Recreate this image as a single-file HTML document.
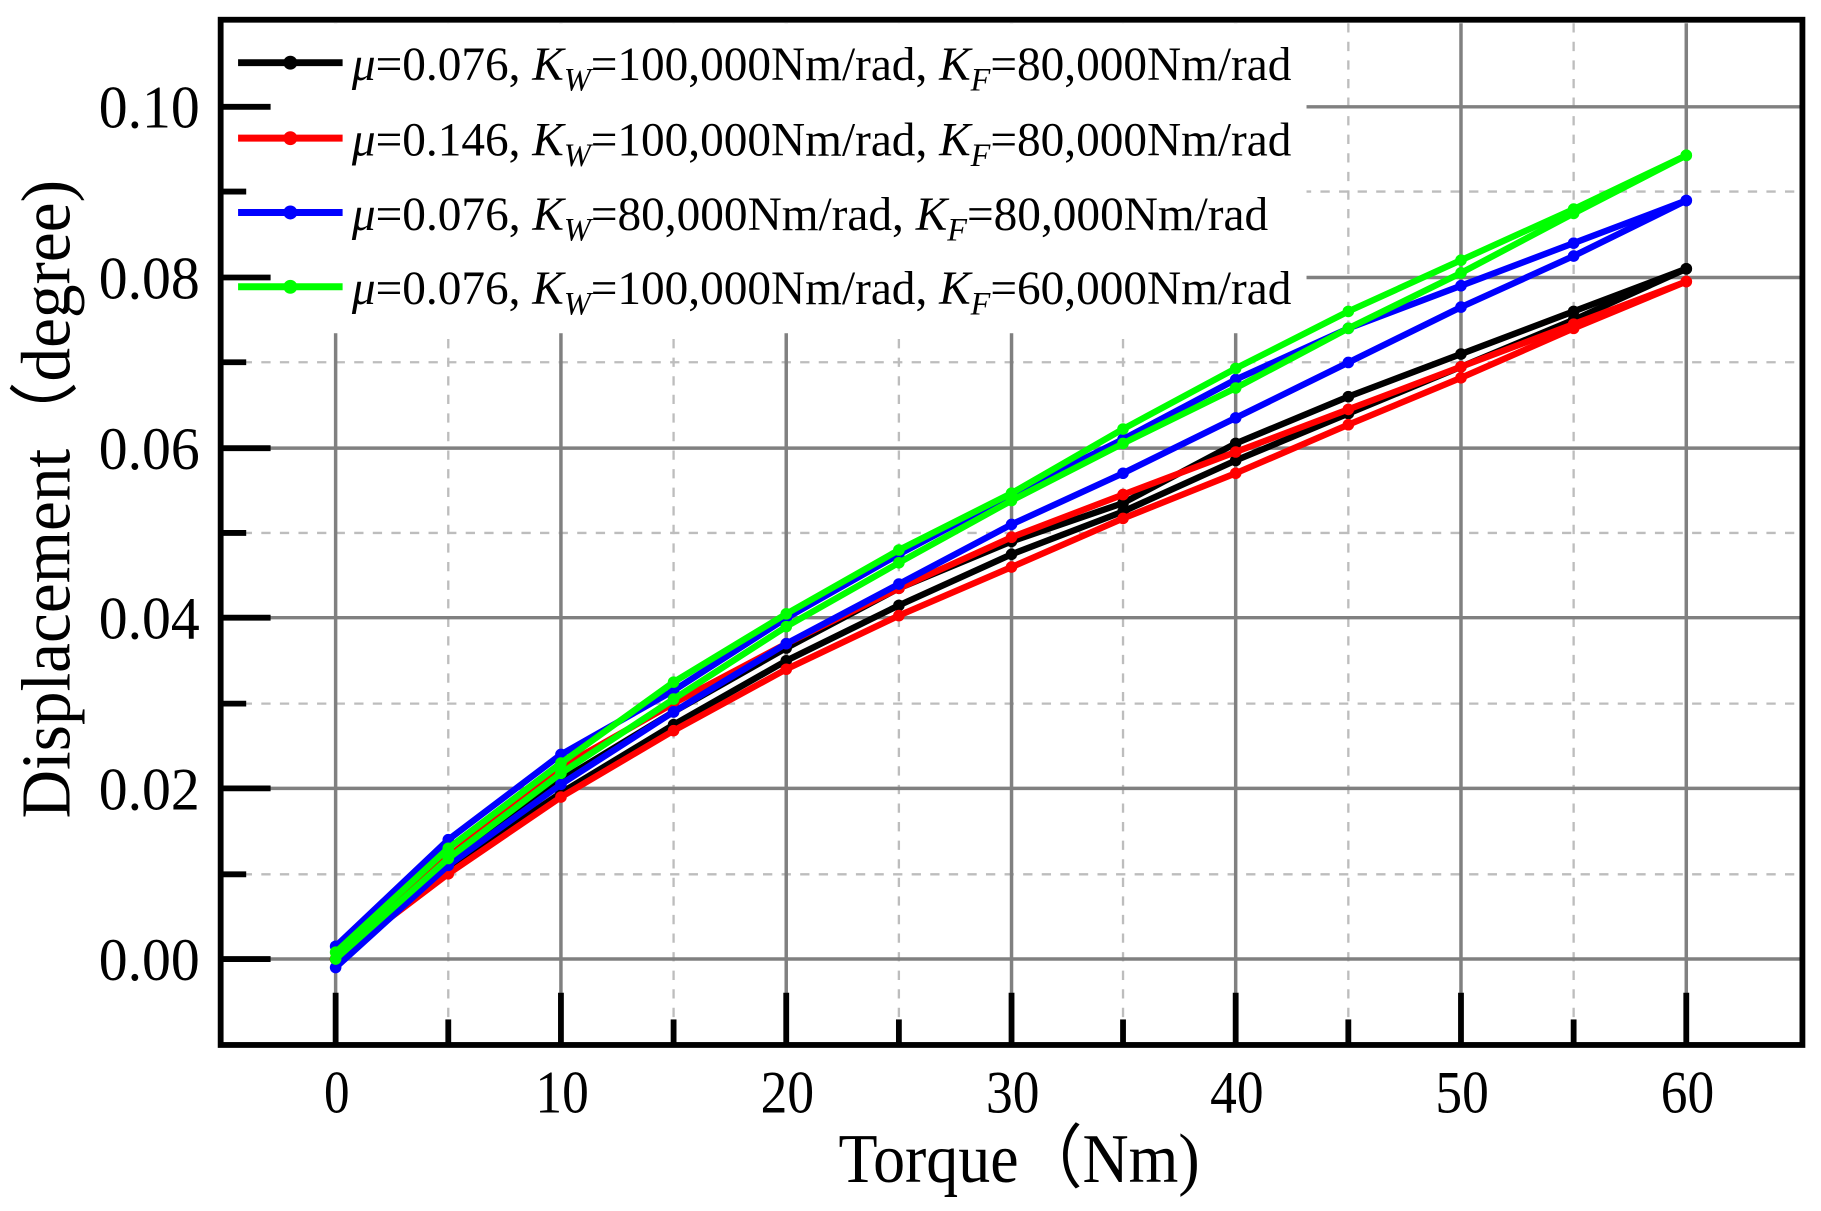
<!DOCTYPE html>
<html><head><meta charset="utf-8"><style>
html,body{margin:0;padding:0;background:#fff;}
svg{display:block;}
text{font-family:"Liberation Serif",serif;fill:#000;}
</style></head><body>
<svg width="1821" height="1211" viewBox="0 0 1568 1043" preserveAspectRatio="none" xmlns="http://www.w3.org/2000/svg">
<defs>
<marker id="mK" markerUnits="userSpaceOnUse" markerWidth="14" markerHeight="14" refX="7" refY="7"><circle cx="7" cy="7" r="5" fill="#000"/></marker>
<marker id="mR" markerUnits="userSpaceOnUse" markerWidth="14" markerHeight="14" refX="7" refY="7"><circle cx="7" cy="7" r="5" fill="#f00"/></marker>
<marker id="mB" markerUnits="userSpaceOnUse" markerWidth="14" markerHeight="14" refX="7" refY="7"><circle cx="7" cy="7" r="5" fill="#00f"/></marker>
<marker id="mG" markerUnits="userSpaceOnUse" markerWidth="14" markerHeight="14" refX="7" refY="7"><circle cx="7" cy="7" r="5" fill="#0f0"/></marker>
</defs>
<rect width="1568" height="1043" fill="#fff"/>
<g stroke="#bdbdbd" stroke-width="2" stroke-dasharray="8,8">
<line x1="386" y1="20" x2="386" y2="898"/><line x1="580" y1="20" x2="580" y2="898"/><line x1="774" y1="20" x2="774" y2="898"/><line x1="967" y1="20" x2="967" y2="898"/><line x1="1161" y1="20" x2="1161" y2="898"/><line x1="1355" y1="20" x2="1355" y2="898"/>
<line x1="193" y1="753" x2="1550" y2="753"/><line x1="193" y1="606" x2="1550" y2="606"/><line x1="193" y1="459" x2="1550" y2="459"/><line x1="193" y1="312" x2="1550" y2="312"/><line x1="193" y1="165" x2="1550" y2="165"/>
</g>
<g stroke="#808080" stroke-width="3">
<line x1="289" y1="20" x2="289" y2="898"/><line x1="483" y1="20" x2="483" y2="898"/><line x1="677" y1="20" x2="677" y2="898"/><line x1="871" y1="20" x2="871" y2="898"/><line x1="1064" y1="20" x2="1064" y2="898"/><line x1="1258" y1="20" x2="1258" y2="898"/><line x1="1452" y1="20" x2="1452" y2="898"/>
<line x1="193" y1="826" x2="1550" y2="826"/><line x1="193" y1="679" x2="1550" y2="679"/><line x1="193" y1="532" x2="1550" y2="532"/><line x1="193" y1="386" x2="1550" y2="386"/><line x1="193" y1="239" x2="1550" y2="239"/><line x1="193" y1="92" x2="1550" y2="92"/>
</g>
<rect x="193" y="20" width="932" height="267" fill="#fff"/>
<g stroke="#000" stroke-width="5">
<line x1="190" y1="826" x2="233" y2="826"/><line x1="190" y1="679" x2="233" y2="679"/><line x1="190" y1="532" x2="233" y2="532"/><line x1="190" y1="386" x2="233" y2="386"/><line x1="190" y1="239" x2="233" y2="239"/><line x1="190" y1="92" x2="233" y2="92"/>
<line x1="190" y1="753" x2="212" y2="753"/><line x1="190" y1="606" x2="212" y2="606"/><line x1="190" y1="459" x2="212" y2="459"/><line x1="190" y1="312" x2="212" y2="312"/><line x1="190" y1="165" x2="212" y2="165"/>
<line x1="289" y1="900" x2="289" y2="855"/><line x1="483" y1="900" x2="483" y2="855"/><line x1="677" y1="900" x2="677" y2="855"/><line x1="871" y1="900" x2="871" y2="855"/><line x1="1064" y1="900" x2="1064" y2="855"/><line x1="1258" y1="900" x2="1258" y2="855"/><line x1="1452" y1="900" x2="1452" y2="855"/>
<line x1="386" y1="900" x2="386" y2="878"/><line x1="580" y1="900" x2="580" y2="878"/><line x1="774" y1="900" x2="774" y2="878"/><line x1="967" y1="900" x2="967" y2="878"/><line x1="1161" y1="900" x2="1161" y2="878"/><line x1="1355" y1="900" x2="1355" y2="878"/>
</g>
<g fill="none" stroke-width="5.5" stroke-linejoin="round">
<g stroke="#000" marker-start="url(#mK)" marker-mid="url(#mK)" marker-end="url(#mK)">
<polyline points="289,826 386,741.6 483,671.9 580,613.1 677,558.1 774,506.7 871,466.3 967,433.3 1064,381.9 1161,341.6 1258,304.9 1355,268.2 1452,231.5"/>
<polyline points="289,826 386,748.9 483,682.9 580,624.2 677,569.1 774,521.4 871,477.4 967,440.6 1064,396.6 1161,356.2 1258,315.9 1355,275.5 1452,231.5"/>
</g>
<g stroke="#f00" marker-start="url(#mR)" marker-mid="url(#mR)" marker-end="url(#mR)">
<polyline points="289,826 386,737.9 483,660.8 580,605.8 677,554.4 774,506.7 871,462.7 967,426 1064,389.3 1161,352.6 1258,315.9 1355,279.2 1452,242.5"/>
<polyline points="289,826 386,752.6 483,686.5 580,629.3 677,576.4 774,530.2 871,488.4 967,446.5 1064,407.6 1161,365.8 1258,325.4 1355,282.8 1452,242.5"/>
</g>
<g stroke="#00f" marker-start="url(#mB)" marker-mid="url(#mB)" marker-end="url(#mB)">
<polyline points="289,815 386,723.2 483,649.8 580,594.8 677,532.4 774,477.4 871,426 967,378.3 1064,326.9 1161,282.8 1258,246.1 1355,209.4 1452,172.7"/>
<polyline points="289,833.3 386,745.3 483,675.5 580,613.1 677,554.4 774,503 871,451.7 967,407.6 1064,359.9 1161,312.2 1258,264.5 1355,220.5 1452,172.7"/>
</g>
<g stroke="#0f0" marker-start="url(#mG)" marker-mid="url(#mG)" marker-end="url(#mG)">
<polyline points="289,820.1 386,730.6 483,657.2 580,587.5 677,528.7 774,473.7 871,424.8 967,369.5 1064,317.3 1161,268.2 1258,224.1 1355,180.1 1452,133.8"/>
<polyline points="289,826 386,739.4 483,666 580,602.1 677,539.7 774,484.7 871,431.1 967,381.9 1064,334.2 1161,282.8 1258,235.1 1355,183.8 1452,133.8"/>
</g>
</g>
<rect x="190" y="17" width="1362" height="883" fill="none" stroke="#000" stroke-width="5"/>
<g stroke-width="6">
<line x1="205" y1="54" x2="295" y2="54" stroke="#000"/><circle cx="250" cy="54" r="6" fill="#000"/>
<line x1="205" y1="119" x2="295" y2="119" stroke="#f00"/><circle cx="250" cy="119" r="6" fill="#f00"/>
<line x1="205" y1="183" x2="295" y2="183" stroke="#00f"/><circle cx="250" cy="183" r="6" fill="#00f"/>
<line x1="205" y1="247" x2="295" y2="247" stroke="#0f0"/><circle cx="250" cy="247" r="6" fill="#0f0"/>
</g>
<g font-size="41">
<text x="303" y="69" textLength="809" lengthAdjust="spacingAndGlyphs"><tspan font-style="italic">μ</tspan>=0.076, <tspan font-style="italic">K</tspan><tspan font-style="italic" font-size="28" dy="9">W</tspan><tspan dy="-9">=100,000Nm/rad, </tspan><tspan font-style="italic">K</tspan><tspan font-style="italic" font-size="28" dy="9">F</tspan><tspan dy="-9">=80,000Nm/rad</tspan></text>
<text x="303" y="134" textLength="809" lengthAdjust="spacingAndGlyphs"><tspan font-style="italic">μ</tspan>=0.146, <tspan font-style="italic">K</tspan><tspan font-style="italic" font-size="28" dy="9">W</tspan><tspan dy="-9">=100,000Nm/rad, </tspan><tspan font-style="italic">K</tspan><tspan font-style="italic" font-size="28" dy="9">F</tspan><tspan dy="-9">=80,000Nm/rad</tspan></text>
<text x="303" y="198" textLength="789" lengthAdjust="spacingAndGlyphs"><tspan font-style="italic">μ</tspan>=0.076, <tspan font-style="italic">K</tspan><tspan font-style="italic" font-size="28" dy="9">W</tspan><tspan dy="-9">=80,000Nm/rad, </tspan><tspan font-style="italic">K</tspan><tspan font-style="italic" font-size="28" dy="9">F</tspan><tspan dy="-9">=80,000Nm/rad</tspan></text>
<text x="303" y="262" textLength="809" lengthAdjust="spacingAndGlyphs"><tspan font-style="italic">μ</tspan>=0.076, <tspan font-style="italic">K</tspan><tspan font-style="italic" font-size="28" dy="9">W</tspan><tspan dy="-9">=100,000Nm/rad, </tspan><tspan font-style="italic">K</tspan><tspan font-style="italic" font-size="28" dy="9">F</tspan><tspan dy="-9">=60,000Nm/rad</tspan></text>
</g>
<g font-size="52">
<text x="85" y="844" textLength="87" lengthAdjust="spacingAndGlyphs">0.00</text>
<text x="85" y="697" textLength="87" lengthAdjust="spacingAndGlyphs">0.02</text>
<text x="85" y="550" textLength="87" lengthAdjust="spacingAndGlyphs">0.04</text>
<text x="85" y="404" textLength="87" lengthAdjust="spacingAndGlyphs">0.06</text>
<text x="85" y="257" textLength="87" lengthAdjust="spacingAndGlyphs">0.08</text>
<text x="85" y="110" textLength="87" lengthAdjust="spacingAndGlyphs">0.10</text>
</g>
<g font-size="52">
<text x="279" y="958" textLength="22" lengthAdjust="spacingAndGlyphs">0</text>
<text x="461" y="958" textLength="46" lengthAdjust="spacingAndGlyphs">10</text>
<text x="655" y="958" textLength="46" lengthAdjust="spacingAndGlyphs">20</text>
<text x="849" y="958" textLength="46" lengthAdjust="spacingAndGlyphs">30</text>
<text x="1042" y="958" textLength="46" lengthAdjust="spacingAndGlyphs">40</text>
<text x="1236" y="958" textLength="46" lengthAdjust="spacingAndGlyphs">50</text>
<text x="1430" y="958" textLength="46" lengthAdjust="spacingAndGlyphs">60</text>
</g>
<text x="722" y="1018" font-size="60" textLength="311" lengthAdjust="spacingAndGlyphs">Torque（Nm)</text>
<text transform="translate(60,705) rotate(-90)" font-size="60" textLength="550" lengthAdjust="spacingAndGlyphs">Displacement（degree)</text>
</svg>
</body></html>
